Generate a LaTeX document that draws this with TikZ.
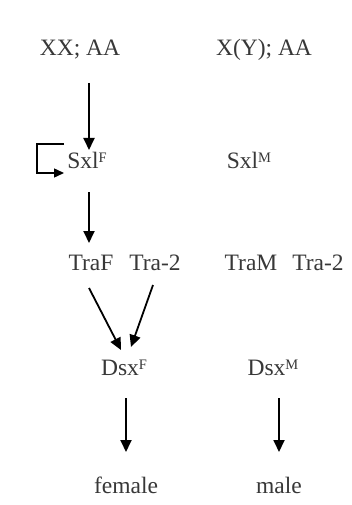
\documentclass[tikz,border=0pt]{standalone}
\usepackage{fontspec}
\setmainfont{Liberation Serif}
\usetikzlibrary{arrows.meta}
\newcommand{\supx}[1]{\raisebox{6pt}{\fontsize{14.5}{15}\selectfont #1}}
\begin{document}
\begin{tikzpicture}[x=1pt,y=-1pt,
  lbl/.style={inner sep=0pt,font=\fontsize{23.5}{26}\selectfont,text=black!78},
  arr/.style={line width=1.8pt,-{Triangle[length=12pt,width=11pt]}},
  loopline/.style={line width=1.4pt,-{Triangle[length=10pt,width=9pt]}}]
\useasboundingbox[fill=white] (0,0) rectangle (351,505);
\node[lbl] (xx) at (80,50) {XX; AA};
\node[lbl] (xy) at (264,50) {X(Y); AA};
\node[lbl] (sxlf) at (87,160) {Sxl\supx{F}};
\node[lbl] (sxlm) at (249,160) {Sxl\supx{M}};
\node[lbl] (traf) at (91,263) {TraF};
\node[lbl] (tra2a) at (155,263) {Tra-2};
\node[lbl] (tram) at (251,263) {TraM};
\node[lbl] (tra2b) at (318,263) {Tra-2};
\node[lbl] (dsxf) at (124,368) {Dsx\supx{F}};
\node[lbl] (dsxm) at (273,368) {Dsx\supx{M}};
\node[lbl] (fem) at (126,485) {female};
\node[lbl] (male) at (279,485) {male};
\draw[arr] ([xshift=9pt,yshift=-33pt]xx.center) -- ([xshift=2pt,yshift=10pt]sxlf.center);
\draw[loopline] ([xshift=-23pt,yshift=16pt]sxlf.center) -| ([xshift=-50pt,yshift=-13pt]sxlf.center) -- ([xshift=-23pt,yshift=-13pt]sxlf.center);
\draw[arr] ([xshift=2pt,yshift=-32pt]sxlf.center) -- ([xshift=-2pt,yshift=20pt]traf.center);
\draw[arr] ([xshift=-2pt,yshift=-25pt]traf.center) -- ([xshift=-3pt,yshift=18pt]dsxf.center);
\draw[arr] ([xshift=-2pt,yshift=-22pt]tra2a.center) -- ([xshift=7pt,yshift=21pt]dsxf.center);
\draw[arr] ([xshift=2pt,yshift=-30pt]dsxf.center) -- ([yshift=33pt]fem.center);
\draw[arr] ([xshift=6pt,yshift=-30pt]dsxm.center) -- ([yshift=33pt]male.center);
\end{tikzpicture}
\end{document}
